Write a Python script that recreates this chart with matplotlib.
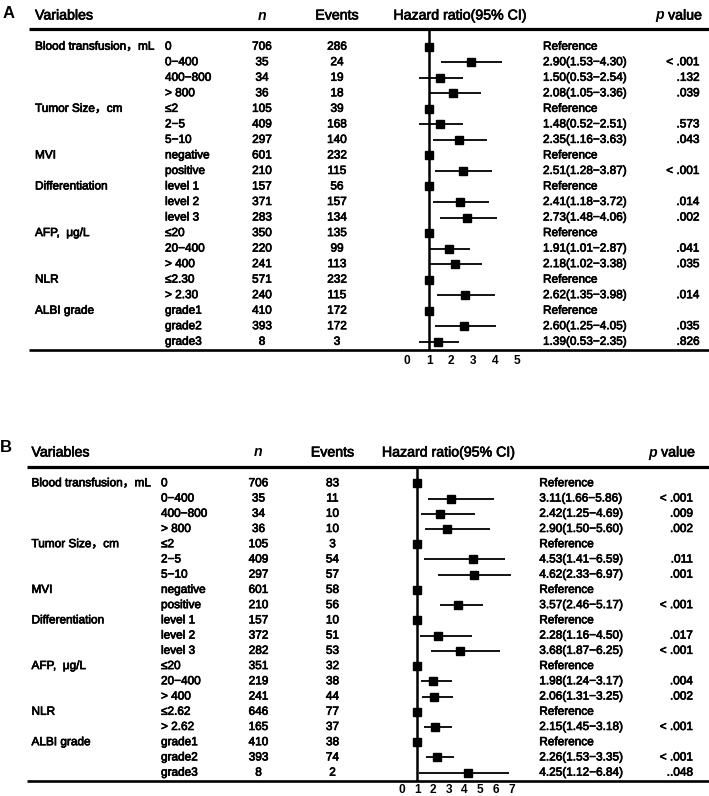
import matplotlib
matplotlib.use("Agg")
import matplotlib.pyplot as plt
import matplotlib.patheffects as pe
import numpy as np

plt.rcParams['font.family'] = ['Liberation Sans', 'Noto Sans CJK SC', 'DejaVu Sans']

# ---------------- data ----------------
variables = ["Blood transfusion，mL", "Tumor Size，cm", "MVI", "Differentiation",
             "AFP,  μg/L", "NLR", "ALBI grade"]

sub_a = [["0", "0−400", "400−800", "> 800"], ["≤2", "2−5", "5−10"],
         ["negative", "positive"], ["level 1", "level 2", "level 3"],
         ["≤20", "20−400", "> 400"], ["≤2.30", "> 2.30"],
         ["grade1", "grade2", "grade3"]]
n_a = [706, 35, 34, 36, 105, 409, 297, 601, 210, 157, 371, 283, 350, 220, 241, 571, 240, 410, 393, 8]
events_a = [286, 24, 19, 18, 39, 168, 140, 232, 115, 56, 157, 134, 135, 99, 113, 232, 115, 172, 172, 3]
ref_a = [True, False, False, False, True, False, False, True, False, True, False, False,
         True, False, False, True, False, True, False, False]
hr_a = [1.0, 2.90, 1.50, 2.08, 1.0, 1.48, 2.35, 1.0, 2.51, 1.0, 2.41, 2.73, 1.0, 1.91, 2.18, 1.0, 2.62, 1.0, 2.60, 1.39]
lo_a = [np.nan, 1.53, 0.53, 1.05, np.nan, 0.52, 1.16, np.nan, 1.28, np.nan, 1.18, 1.48, np.nan, 1.01, 1.02, np.nan, 1.35, np.nan, 1.25, 0.53]
hi_a = [np.nan, 4.30, 2.54, 3.36, np.nan, 2.51, 3.63, np.nan, 3.87, np.nan, 3.72, 4.06, np.nan, 2.87, 3.38, np.nan, 3.98, np.nan, 4.05, 2.35]
p_a = ["", "< .001", ".132", ".039", "", ".573", ".043", "", "< .001", "", ".014", ".002",
       "", ".041", ".035", "", ".014", "", ".035", ".826"]
ticks_a = [0, 1, 2, 3, 4, 5]

sub_b = [["0", "0−400", "400−800", "> 800"], ["≤2", "2−5", "5−10"],
         ["negative", "positive"], ["level 1", "level 2", "level 3"],
         ["≤20", "20−400", "> 400"], ["≤2.62", "> 2.62"],
         ["grade1", "grade2", "grade3"]]
n_b = [706, 35, 34, 36, 105, 409, 297, 601, 210, 157, 372, 282, 351, 219, 241, 646, 165, 410, 393, 8]
events_b = [83, 11, 10, 10, 3, 54, 57, 58, 56, 10, 51, 53, 32, 38, 44, 77, 37, 38, 74, 2]
ref_b = ref_a
hr_b = [1.0, 3.11, 2.42, 2.90, 1.0, 4.53, 4.62, 1.0, 3.57, 1.0, 2.28, 3.68, 1.0, 1.98, 2.06, 1.0, 2.15, 1.0, 2.26, 4.25]
lo_b = [np.nan, 1.66, 1.25, 1.50, np.nan, 1.41, 2.33, np.nan, 2.46, np.nan, 1.16, 1.87, np.nan, 1.24, 1.31, np.nan, 1.45, np.nan, 1.53, 1.12]
hi_b = [np.nan, 5.86, 4.69, 5.60, np.nan, 6.59, 6.97, np.nan, 5.17, np.nan, 4.50, 6.25, np.nan, 3.17, 3.25, np.nan, 3.18, np.nan, 3.35, 6.84]
p_b = ["", "< .001", ".009", ".002", "", ".011", ".001", "", "< .001", "", ".017", "< .001",
       "", ".004", ".002", "", "< .001", "", "< .001", "..048"]
ticks_b = [0, 1, 2, 3, 4, 5, 6, 7]

# ---------------- figure ----------------
W, H = 709, 796
fig = plt.figure(figsize=(W / 100, H / 100), dpi=100)
renderer = fig.canvas.get_renderer()

FS_ROW = 8.5
FS_HEAD = 10.2
EFF = [pe.withStroke(linewidth=0.5, foreground='black')]


def draw_panel(letter, sub, n, events, ref, hr, lo, hi, pv, ticks, L):
    nrows = len(n)
    top_px, bot_px = L['top'], L['bot']
    y_top = (top_px - L['row0']) / L['dy']
    y_bot = (bot_px - L['row0']) / L['dy']
    y_head = (L['head'] - L['row0']) / L['dy']
    rect_b = 1 - bot_px / H
    rect_h = (bot_px - top_px) / H

    tab = fig.add_axes([0, rect_b, 1, rect_h])
    tab.set_xlim(0, W)
    tab.set_ylim(y_bot, y_top)
    tab.axis('off')

    # horizontal rules
    tab.plot([L['line_x0'], W], [y_top, y_top], color='black', lw=2.3, clip_on=False,
             solid_capstyle='butt')
    tab.plot([L['line_x0'], W], [y_bot, y_bot], color='black', lw=1.9, clip_on=False,
             solid_capstyle='butt')

    # header
    hk = dict(fontsize=FS_HEAD, va='center', clip_on=False, path_effects=EFF)
    tab.text(L['var_x'], y_head, "Variables", ha='left', **hk)
    tab.text(L['n_x'], y_head, "n", ha='center', style='italic', fontweight='bold',
             fontsize=FS_HEAD, va='center', clip_on=False)
    tab.text(L['ev_x'], y_head, "Events", ha='center', **hk)
    tab.text(L['hrh_x'], y_head, "Hazard ratio(95% CI)", ha='center', **hk)
    tv = tab.text(L['ph_x'], y_head, " value", ha='right', **hk)
    bb = tv.get_window_extent(renderer=renderer)
    xl = tab.transData.inverted().transform((bb.x0, bb.y0))[0]
    tab.text(xl, y_head, "p", ha='right', style='italic', fontweight='bold',
             fontsize=FS_HEAD, va='center', clip_on=False)
    tab.text(L['let_x'], (L['let_y'] - L['row0']) / L['dy'], letter, ha='left', va='center',
             fontsize=12, fontweight='bold', clip_on=False)

    rk = dict(fontsize=FS_ROW, va='center', clip_on=False, path_effects=EFF)
    rows = np.arange(nrows)
    r = 0
    for var, subs in zip(variables, sub):
        tab.text(L['var_x'], r, var, ha='left', **rk)
        for s in subs:
            tab.text(L['sub_x'], r, s, ha='left', **rk)
            r += 1
    for i in rows:
        tab.text(L['n_x'], i, str(n[i]), ha='center', **rk)
        tab.text(L['ev_x'], i, str(events[i]), ha='center', **rk)
        if ref[i]:
            lab = "Reference"
        else:
            lab = f"{hr[i]:.2f}({lo[i]:.2f}−{hi[i]:.2f})"
        tab.text(L['hr_x'], i, lab, ha='left', **rk)
        if pv[i]:
            tab.text(L['p_x'], i, pv[i], ha='right', **rk)

    # forest axes
    x0, unit = L['f0'], L['funit']
    fa_l, fa_r = 375, 545
    fa = fig.add_axes([fa_l / W, rect_b, (fa_r - fa_l) / W, rect_h])
    fa.set_xlim((fa_l - x0) / unit, (fa_r - x0) / unit)
    fa.set_ylim(y_bot, y_top)
    for sp in fa.spines.values():
        sp.set_visible(False)
    fa.set_yticks([])
    fa.set_xticks(ticks)
    fa.set_xticklabels([str(t) for t in ticks], fontsize=8.6, fontweight='bold')
    fa.tick_params(axis='x', length=0, pad=L['tpad'])
    fa.patch.set_alpha(0)
    fa.axvline(1, color='black', lw=1.8)
    fa.hlines(rows, lo, hi, color='black', lw=1.3)
    fa.plot(hr, rows, 's', color='black', ms=6.2, lw=0)


LA = dict(top=29.3, bot=350.0, row0=46.7, dy=15.53, head=15.5, line_x0=29,
          var_x=35, sub_x=165, n_x=262, ev_x=337, hrh_x=460, hr_x=543, p_x=699.5,
          ph_x=702, let_x=3, let_y=13, f0=407.3, funit=22.0, tpad=3.5)
LB = dict(top=466.7, bot=781.0, row0=483.3, dy=15.23, head=452.5, line_x0=27,
          var_x=31.5, sub_x=161, n_x=258.5, ev_x=332.5, hrh_x=448.5, hr_x=539.3, p_x=693,
          ph_x=695, let_x=0, let_y=447, f0=401.7, funit=15.71, tpad=2.0)

draw_panel("A", sub_a, n_a, events_a, ref_a, hr_a, lo_a, hi_a, p_a, ticks_a, LA)
draw_panel("B", sub_b, n_b, events_b, ref_b, hr_b, lo_b, hi_b, p_b, ticks_b, LB)

fig.savefig("out.png", dpi=100)
